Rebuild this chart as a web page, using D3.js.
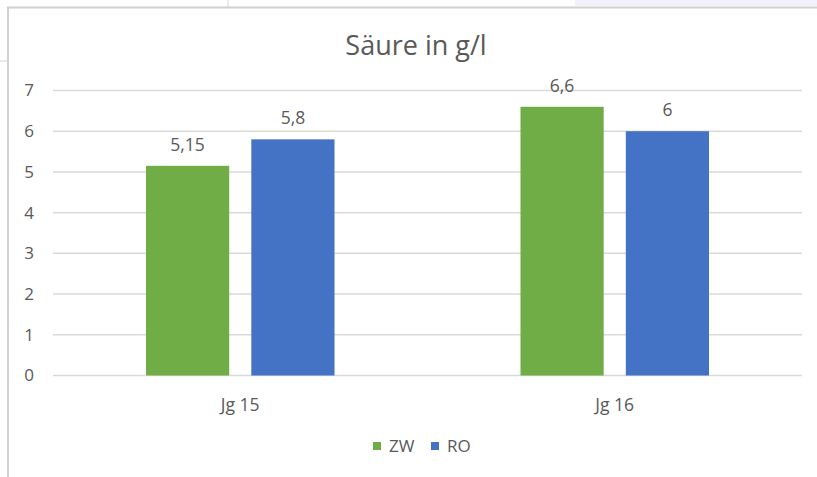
<!DOCTYPE html>
<html>
<head>
<meta charset="utf-8">
<script src="https://cdnjs.cloudflare.com/ajax/libs/d3/7.8.5/d3.min.js"></script>
<style>
body { margin: 0; background: white; }
text { font-family: "Open Sans", "Noto Sans", sans-serif; fill: #595959; }
</style>
</head>
<body>
<div id="chart"></div>
<script>
// data
var categories = ["Jg 15", "Jg 16"];
var seriesNames = ["ZW", "RO"];
var zwValues = [5.15, 6.6];
var roValues = [5.8, 6];
var yTicks = [0, 1, 2, 3, 4, 5, 6, 7];
var colours = ["#70ad47", "#4472c4"];

var W = 817, H = 477;
var svg = d3.select("#chart").append("svg")
    .attr("width", W)
    .attr("height", H);

// spreadsheet bits around the chart
svg.append("rect").attr("x", 575).attr("y", 0).attr("width", W - 575).attr("height", 6).style("fill", "#f1f1fb");
svg.append("line").attr("x1", 228).attr("x2", 228).attr("y1", 0).attr("y2", 7).style("stroke", "#d4d4d4");
svg.append("line").attr("x1", 0).attr("x2", 8).attr("y1", 61).attr("y2", 61).style("stroke", "#d4d4d4");
// chart frame
svg.append("path")
    .attr("d", "M8," + H + "V7.5H" + W)
    .style("fill", "none")
    .style("stroke", "#d0d0d0")
    .style("stroke-width", 2);

var plotLeft = 53, plotRight = 802;
var y = d3.scaleLinear().domain([0, 7]).range([375.5, 90.5]);
var x0 = d3.scaleBand().domain(categories).range([plotLeft, plotRight]);
var x1 = d3.scaleBand().domain(seriesNames).range([93, 281.5]).paddingInner(0.21);

// gridlines
svg.append("g").selectAll("line")
    .data(yTicks)
    .join("line")
    .attr("x1", plotLeft)
    .attr("x2", plotRight)
    .attr("y1", d => y(d))
    .attr("y2", d => y(d))
    .style("stroke", "#d9d9d9")
    .style("stroke-width", 1.5);

// y tick labels
svg.append("g").selectAll("text")
    .data(yTicks)
    .join("text")
    .attr("x", 34)
    .attr("y", d => y(d))
    .attr("dy", "0.35em")
    .attr("text-anchor", "end")
    .attr("font-size", 17)
    .text(d => d);

var rows = categories.map(function(c, i) {
    return { cat: c, values: [zwValues[i], roValues[i]] };
});

var groups = svg.append("g").selectAll("g")
    .data(rows)
    .join("g")
    .attr("transform", d => "translate(" + x0(d.cat) + ",0)");

groups.selectAll("rect")
    .data(d => d.values.map((v, j) => ({ name: seriesNames[j], value: v, j: j })))
    .join("rect")
    .attr("x", d => x1(d.name))
    .attr("width", x1.bandwidth())
    .attr("y", d => y(d.value))
    .attr("height", d => y(0) - y(d.value))
    .style("fill", d => colours[d.j]);

groups.selectAll("text.lbl")
    .data(d => d.values.map((v, j) => ({ name: seriesNames[j], value: v })))
    .join("text")
    .attr("class", "lbl")
    .attr("x", d => x1(d.name) + x1.bandwidth() / 2)
    .attr("y", d => y(d.value) - 21)
    .attr("dy", "0.35em")
    .attr("text-anchor", "middle")
    .attr("font-size", 17.5)
    .text(d => String(d.value).replace(".", ","));

// category labels
svg.append("g").selectAll("text")
    .data(categories)
    .join("text")
    .attr("x", d => x0(d) + x0.bandwidth() / 2)
    .attr("y", 405)
    .attr("dy", "0.35em")
    .attr("text-anchor", "middle")
    .attr("font-size", 17.5)
    .text(d => d);

// title
svg.append("text")
    .attr("x", 416)
    .attr("y", 46)
    .attr("dy", "0.35em")
    .attr("text-anchor", "middle")
    .attr("font-size", 27)
    .text("Säure in g/l");

// legend
var legendX = [373, 431];
var legend = svg.append("g").selectAll("g")
    .data(seriesNames)
    .join("g")
    .attr("transform", (d, i) => "translate(" + legendX[i] + ",446)");
legend.append("rect")
    .attr("x", 0).attr("y", -4)
    .attr("width", 8).attr("height", 8)
    .style("fill", (d, i) => colours[i]);
legend.append("text")
    .attr("x", 16)
    .attr("y", 0)
    .attr("dy", "0.35em")
    .attr("font-size", 17)
    .text(d => d);
</script>
</body>
</html>
